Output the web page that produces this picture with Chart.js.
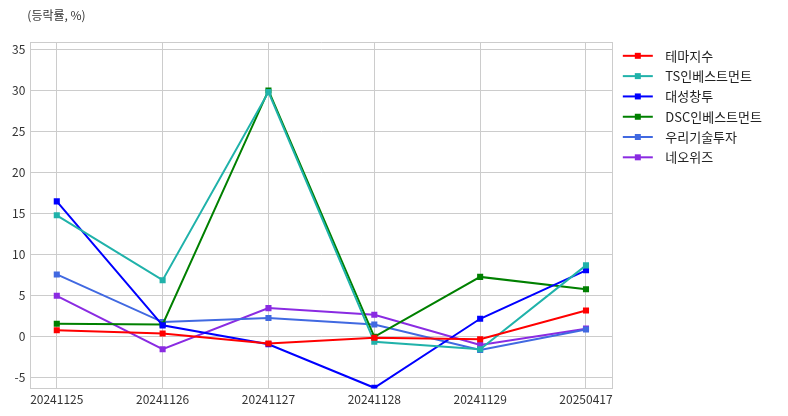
<!DOCTYPE html>
<html>
<head>
<meta charset="utf-8">
<script src="https://cdn.jsdelivr.net/npm/chart.js@4/dist/chart.umd.min.js"></script>
<style>
body { margin: 0; background: #fff; }
#wrap { width: 788px; height: 416px; }
</style>
</head>
<body>
<div id="wrap"><canvas id="chart"></canvas></div>
<script>
// 날짜별 등락률 (%)
var dates = ['20241125', '20241126', '20241127', '20241128', '20241129', '20250417'];
var themeIndex = [0.8, 0.4, -0.8, -0.1, -0.3, 3.2];
var tsInvest = [14.8, 6.9, 29.8, -0.6, -1.5, 8.7];
var daesung = [16.5, 1.4, -0.9, -6.2, 2.2, 8.1];
var dscInvest = [1.6, 1.5, 30.0, 0.0, 7.3, 5.8];
var wooriTech = [7.6, 1.8, 2.3, 1.5, -1.6, 0.9];
var neowiz = [5.0, -1.5, 3.5, 2.7, -1.0, 1.0];
var yTicks = [-5, 0, 5, 10, 15, 20, 25, 30, 35];

var seriesNames = ['테마지수', 'TS인베스트먼트', '대성창투', 'DSC인베스트먼트', '우리기술투자', '네오위즈'];
var seriesData = [themeIndex, tsInvest, daesung, dscInvest, wooriTech, neowiz];
var seriesColors = ['#ff0000', '#20b2aa', '#0000ff', '#008000', '#4169e1', '#8a2be2'];

var yMin = -6.3, yMax = 35.9;
var xMin = -0.25, xMax = 5.25;

var fontFamily = "'Noto Sans CJK KR', 'Noto Sans', sans-serif";

// 범례 아이콘: 선 + 사각 마커
function legendIcon(color) {
    var c = document.createElement('canvas');
    c.width = 39;
    c.height = 10;
    var g = c.getContext('2d');
    g.strokeStyle = color;
    g.lineWidth = 2;
    g.beginPath();
    g.moveTo(3, 5);
    g.lineTo(33, 5);
    g.stroke();
    g.fillStyle = color;
    g.fillRect(15, 2, 6, 6);
    return c;
}
var icons = seriesColors.map(legendIcon);

var datasets = seriesNames.map(function(name, i) {
    return {
        label: name,
        data: seriesData[i].map(function(v, j) { return { x: j, y: v }; }),
        borderColor: seriesColors[i],
        backgroundColor: seriesColors[i],
        borderWidth: 2,
        pointStyle: 'rect',
        pointRadius: 4.3,
        pointBorderWidth: 0,
        tension: 0
    };
});

var unitLabel = {
    id: 'unitLabel',
    afterDraw: function(chart) {
        var ctx = chart.ctx;
        ctx.save();
        ctx.font = '12px ' + fontFamily;
        ctx.fillStyle = '#333';
        ctx.textBaseline = 'middle';
        ctx.fillText('(등락률, %)', chart.chartArea.left - 3, 15);
        ctx.restore();
    }
};

var myChart = new Chart(document.getElementById('chart').getContext('2d'), {
    type: 'line',
    data: { datasets: datasets },
    options: {
        responsive: true,
        maintainAspectRatio: false,
        animation: false,
        layout: { padding: { left: 7, top: 42, right: 16, bottom: 5 } },
        scales: {
            x: {
                type: 'linear',
                min: xMin,
                max: xMax,
                afterBuildTicks: function(scale) {
                    var t = [{ value: xMin }];
                    dates.forEach(function(d, i) { t.push({ value: i }); });
                    t.push({ value: xMax });
                    scale.ticks = t;
                },
                ticks: {
                    autoSkip: false,
                    maxRotation: 0,
                    padding: 4,
                    color: '#333',
                    font: { family: fontFamily, size: 12 },
                    callback: function(value) {
                        return Number.isInteger(value) ? dates[value] : '';
                    }
                },
                grid: { color: '#cccccc', drawTicks: false },
                border: { color: '#cccccc' }
            },
            y: {
                min: yMin,
                max: yMax,
                afterBuildTicks: function(scale) {
                    var t = [{ value: yMin }];
                    yTicks.forEach(function(v) { t.push({ value: v }); });
                    t.push({ value: yMax });
                    scale.ticks = t;
                },
                ticks: {
                    autoSkip: false,
                    padding: 5,
                    color: '#333',
                    font: { family: fontFamily, size: 12 },
                    callback: function(value) {
                        return yTicks.indexOf(value) >= 0 ? value : '';
                    }
                },
                grid: { color: '#cccccc', drawTicks: false },
                border: { color: '#cccccc' }
            }
        },
        plugins: {
            tooltip: { enabled: false },
            legend: {
                position: 'right',
                align: 'start',
                labels: {
                    usePointStyle: true,
                    pointStyleWidth: 39,
                    padding: 7.3,
                    color: '#222',
                    font: { family: fontFamily, size: 13 },
                    generateLabels: function(chart) {
                        var items = Chart.defaults.plugins.legend.labels.generateLabels(chart);
                        items.forEach(function(item, i) {
                            item.pointStyle = icons[i];
                        });
                        return items;
                    }
                }
            }
        }
    },
    plugins: [unitLabel]
});
</script>
</body>
</html>
